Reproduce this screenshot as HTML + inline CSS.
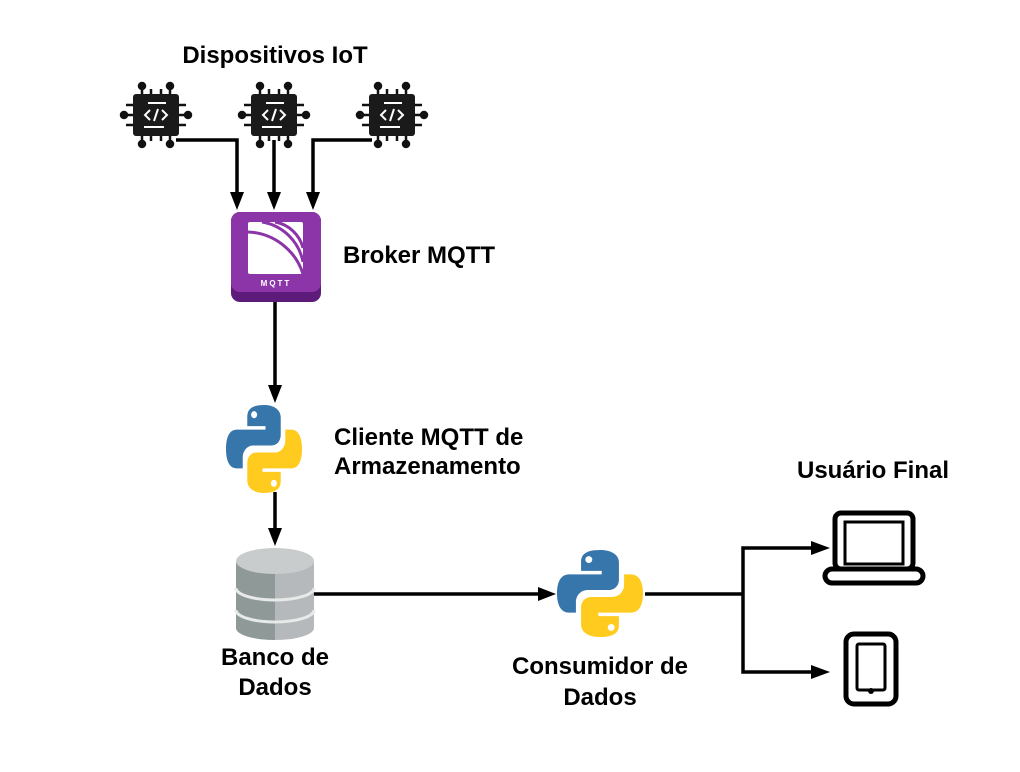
<!DOCTYPE html>
<html><head><meta charset="utf-8"><style>
html,body{margin:0;padding:0;background:#fff;}
svg{display:block;}
text{font-family:"Liberation Sans",sans-serif;font-weight:bold;font-size:24px;fill:#000;}
</style></head><body>
<svg width="1020" height="772" viewBox="0 0 1020 772" xmlns="http://www.w3.org/2000/svg">
<defs>
<g id="chip">
  <g stroke="#111" stroke-width="2.5" fill="#111">
    <line x1="-14" y1="-20" x2="-14" y2="-28"/><line x1="-5" y1="-20" x2="-5" y2="-26"/><line x1="5" y1="-20" x2="5" y2="-26"/><line x1="14" y1="-20" x2="14" y2="-28"/>
    <line x1="-14" y1="20" x2="-14" y2="28"/><line x1="-5" y1="20" x2="-5" y2="26"/><line x1="5" y1="20" x2="5" y2="26"/><line x1="14" y1="20" x2="14" y2="28"/>
    <line x1="-22" y1="-10" x2="-30" y2="-10"/><line x1="-22" y1="0" x2="-32" y2="0"/><line x1="-22" y1="10" x2="-30" y2="10"/>
    <line x1="22" y1="-10" x2="30" y2="-10"/><line x1="22" y1="0" x2="32" y2="0"/><line x1="22" y1="10" x2="30" y2="10"/>
    <circle cx="-14" cy="-29" r="3"/><circle cx="14" cy="-29" r="3"/><circle cx="-14" cy="29" r="3"/><circle cx="14" cy="29" r="3"/>
    <circle cx="-32" cy="0" r="3"/><circle cx="32" cy="0" r="3"/>
  </g>
  <rect x="-23" y="-21" width="46" height="42" rx="3" fill="#1a1a1a"/>
  <g stroke="#fff" stroke-width="2" fill="none">
    <line x1="-8" y1="-12" x2="10" y2="-12"/><line x1="-12" y1="12" x2="8" y2="12"/>
    <polyline points="-6,-5 -11,0 -6,5"/><polyline points="6,-5 11,0 6,5"/><line x1="2" y1="-6" x2="-2" y2="6"/>
  </g>
</g>
<g id="py">
  <path d="M50 0C30 0 28 8 28 14V24H52V28H14C5 28 0 36 0 50C0 64 5 72 14 72H22V60C22 52 28 46 36 46H60C67 46 72 41 72 34V14C72 6 64 0 50 0Z" fill="#3776ab"/>
  <path d="M50 0C30 0 28 8 28 14V24H52V28H14C5 28 0 36 0 50C0 64 5 72 14 72H22V60C22 52 28 46 36 46H60C67 46 72 41 72 34V14C72 6 64 0 50 0Z" fill="#ffcb1f" transform="rotate(180 50 50)"/>
  <circle cx="37" cy="11" r="4" fill="#fff"/><circle cx="63" cy="89" r="4" fill="#fff"/>
</g>
</defs>

<text x="275" y="63" text-anchor="middle">Dispositivos IoT</text>
<use href="#chip" x="156" y="115"/>
<use href="#chip" x="274" y="115"/>
<use href="#chip" x="392" y="115"/>

<g stroke="#000" stroke-width="3.5" fill="none">
  <polyline points="176,140 237,140 237,195"/>
  <line x1="274" y1="140" x2="274" y2="195"/>
  <polyline points="372,140 313,140 313,195"/>
  <line x1="275" y1="302" x2="275" y2="388"/>
  <line x1="275" y1="492" x2="275" y2="530"/>
  <line x1="314" y1="594" x2="540" y2="594"/>
  <line x1="645" y1="594" x2="743" y2="594"/>
  <polyline points="813,548 743,548 743,672 813,672"/>
</g>
<g fill="#000">
  <polygon points="230,192 244,192 237,210"/>
  <polygon points="267,192 281,192 274,210"/>
  <polygon points="306,192 320,192 313,210"/>
  <polygon points="268,385 282,385 275,403"/>
  <polygon points="268,528 282,528 275,546"/>
  <polygon points="538,587 538,601 556,594"/>
  <polygon points="811,541 811,555 830,548"/>
  <polygon points="811,665 811,679 830,672"/>
</g>

<!-- MQTT -->
<rect x="231" y="212" width="90" height="90" rx="9" fill="#5e1c7a"/>
<rect x="231" y="212" width="90" height="80" rx="9" fill="#8b35a8"/>
<rect x="248" y="222" width="55" height="52" rx="2" fill="#fff"/>
<g stroke="#8b35a8" stroke-width="3" fill="none">
  <path d="M248 232 A60 60 0 0 1 303 274"/>
  <path d="M262 222 A50 50 0 0 1 303 262"/>
  <path d="M275 222 A35 35 0 0 1 303 248"/>
</g>
<text x="276" y="286" text-anchor="middle" style="font-size:8px;fill:#fff;letter-spacing:2px">MQTT</text>
<text x="343" y="263">Broker MQTT</text>

<use href="#py" transform="translate(226,405) scale(0.76,0.88)"/>
<text x="334" y="445">Cliente MQTT de</text>
<text x="334" y="474">Armazenamento</text>

<!-- DB -->
<path d="M236 562 V628 A39 12 0 0 0 314 628 V562Z" fill="#b5b9bb"/>
<path d="M236 562 V628 A39 12 0 0 0 275 640 V562Z" fill="#8f9a98"/>
<g stroke="#e8eaea" stroke-width="3" fill="none">
  <path d="M236 588 A39 12 0 0 0 314 588"/>
  <path d="M236 610 A39 12 0 0 0 314 610"/>
</g>
<ellipse cx="275" cy="561" rx="39" ry="13" fill="#c9cccd"/>
<text x="275" y="665" text-anchor="middle">Banco de</text>
<text x="275" y="695" text-anchor="middle">Dados</text>

<use href="#py" transform="translate(557,550) scale(0.86,0.87)"/>
<text x="600" y="674" text-anchor="middle">Consumidor de</text>
<text x="600" y="705" text-anchor="middle">Dados</text>

<text x="873" y="478" text-anchor="middle">Usuário Final</text>
<!-- laptop -->
<rect x="835" y="513" width="78" height="56" rx="6" fill="none" stroke="#000" stroke-width="5"/>
<rect x="845" y="522" width="58" height="42" fill="none" stroke="#000" stroke-width="3"/>
<rect x="825" y="569" width="98" height="14" rx="7" fill="none" stroke="#000" stroke-width="5"/>
<!-- tablet -->
<rect x="846" y="634" width="50" height="70" rx="8" fill="none" stroke="#000" stroke-width="5"/>
<rect x="857" y="644" width="28" height="46" rx="2" fill="none" stroke="#000" stroke-width="3"/>
<circle cx="871" cy="691" r="3" fill="#000"/>
</svg>
</body></html>
